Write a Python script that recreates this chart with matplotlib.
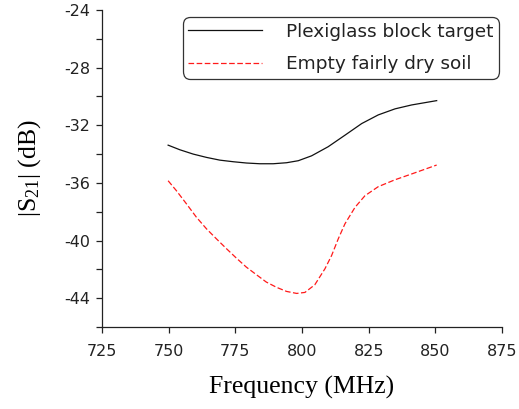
import numpy as np
import matplotlib
matplotlib.use("Agg")
import matplotlib.pyplot as plt

# S21 magnitude vs frequency
freq_plexi = [749.8, 754.2, 759.2, 764.2, 769.2, 774.2, 779.2, 784.2, 789.2, 794.2, 798.6,
              803.6, 809.8, 816.1, 822.4, 828.6, 834.9, 841.1, 850.5]
s21_plexi = [-33.38, -33.70, -34.00, -34.23, -34.42, -34.53, -34.62, -34.67, -34.67, -34.60,
             -34.46, -34.12, -33.49, -32.69, -31.88, -31.28, -30.86, -30.59, -30.29]

freq_soil = [749.8, 752.9, 756.7, 760.4, 764.2, 767.9, 771.7, 775.4, 779.1, 782.9, 786.6,
             790.5, 794.2, 798.0, 801.1, 804.8, 808.6, 811.1, 813.6, 816.1, 819.9, 823.6,
             828.6, 834.9, 841.1, 850.5]
s21_soil = [-35.85, -36.54, -37.46, -38.38, -39.19, -39.88, -40.57, -41.22, -41.84, -42.37,
            -42.88, -43.25, -43.53, -43.67, -43.60, -43.07, -41.96, -41.04, -39.88, -38.84,
            -37.69, -36.89, -36.26, -35.78, -35.38, -34.76]

labels = ["Plexiglass block target", "Empty fairly dry soil"]
xticks = [725, 750, 775, 800, 825, 850, 875]
yticks = [-44, -40, -36, -32, -28, -24]
yminor = [-46, -42, -38, -34, -30, -26]

plt.rcParams["mathtext.fontset"] = "custom"
plt.rcParams["mathtext.rm"] = "Liberation Serif"
plt.rcParams["mathtext.it"] = "Liberation Serif:italic"

W, H = 519, 409
fig = plt.figure(figsize=(W / 100, H / 100), dpi=100)
ax = fig.add_axes([102 / W, 1 - 327 / H, 400 / W, 317 / H])

ax.plot(freq_plexi, s21_plexi, color="#111111", lw=0.9, label=labels[0])
ax.plot(freq_soil, s21_soil, color="#ff1a1a", lw=0.9, dashes=(4.5, 2), label=labels[1])

ax.set_xlim(725, 875)
ax.set_ylim(-46, -24)
ax.set_xticks(xticks)
ax.set_yticks(yticks)
ax.set_yticklabels([str(v) for v in yticks])
ax.set_yticks(yminor, minor=True)

for s in ("top", "right"):
    ax.spines[s].set_visible(False)
for s in ("left", "bottom"):
    ax.spines[s].set_color("#222222")
    ax.spines[s].set_linewidth(0.9)

ax.tick_params(axis="both", which="both", direction="out", length=4.5, width=0.9,
               color="#222222", labelsize=11.5, labelcolor="#222222")
ax.tick_params(axis="y", pad=4)
ax.tick_params(axis="x", pad=8)

ax.set_xlabel("Frequency (MHz)", family="Liberation Serif", fontsize=18.5, labelpad=12)
ax.set_ylabel(r"|S$_{21}$| (dB)", family="Liberation Serif", fontsize=18.5, labelpad=15)

# legend anchored at its top-right corner in pixel coordinates
anchor = ax.transAxes.inverted().transform(fig.transFigure.transform((499 / W, 1 - 17 / H)))
leg = ax.legend(loc="upper right", bbox_to_anchor=tuple(anchor), borderaxespad=0,
                fontsize=13.3, handlelength=4.0, handletextpad=1.3, labelspacing=0.8,
                borderpad=0.3, fancybox=True, framealpha=1)
frame = leg.get_frame()
frame.set_boxstyle("round", pad=0, rounding_size=0.4)
frame.set_edgecolor("#333333")
frame.set_linewidth(0.9)
for t in leg.get_texts():
    t.set_color("#222222")

fig.savefig("out.png", dpi=100)
